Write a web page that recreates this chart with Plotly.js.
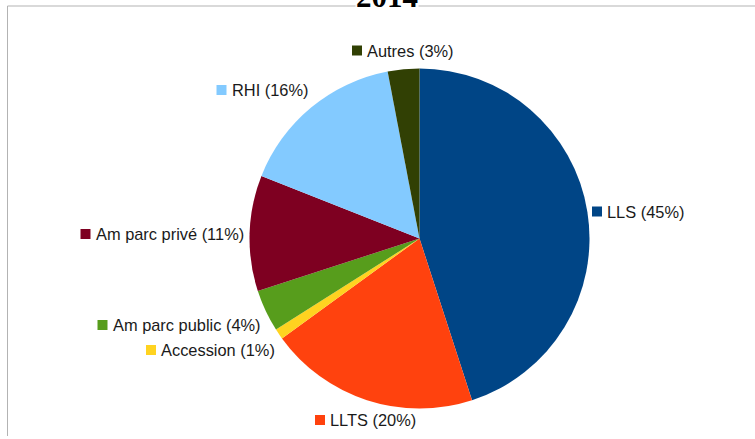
<!DOCTYPE html>
<html>
<head>
<meta charset="utf-8">
<script src="https://cdn.plot.ly/plotly-3.0.1.min.js"></script>
<style>html,body{margin:0;padding:0;background:#fff;}#chart{width:755px;height:439px;}</style>
</head>
<body>
<div id="chart"></div>
<script>
// ---- data ----
const chartTitle = "2014";
const categories = ["LLS", "LLTS", "Accession", "Am parc public", "Am parc privé", "RHI", "Autres"];
const shares = [45, 20, 1, 4, 11, 16, 3];
const sliceColors = ["#004586", "#ff420e", "#ffd320", "#579d1c", "#7e0021", "#83caff", "#314004"];

// ---- label placement (pixels: left edge of key square, vertical centre) ----
const labelPos = [
  [592, 211.5], [315, 420], [146, 350], [97.5, 325], [80.5, 234], [216.5, 90], [352, 50.5]
];

const W = 755, H = 439;
const px = x => x / W;
const py = y => 1 - y / H;

// pie geometry (pixels)
const cx = 419.5, cy = 238.5, r = 170;

const shapes = [
  // chart frame (top and left edges)
  {type: "line", xref: "paper", yref: "paper", x0: px(7.5), x1: px(760), y0: py(6), y1: py(6),
   line: {color: "#b3b3b3", width: 1}, layer: "below"},
  {type: "line", xref: "paper", yref: "paper", x0: px(7.5), x1: px(7.5), y0: py(6), y1: py(436),
   line: {color: "#b3b3b3", width: 1}, layer: "below"}
];
const annotations = [];
const sq = 10;
categories.forEach((c, i) => {
  const [lx, ly] = labelPos[i];
  shapes.push({type: "rect", xref: "paper", yref: "paper",
    x0: px(lx), x1: px(lx + sq), y0: py(ly - sq / 2), y1: py(ly + sq / 2),
    fillcolor: sliceColors[i], line: {width: 0}, layer: "above"});
  annotations.push({xref: "paper", yref: "paper", x: px(lx + 13), y: py(ly),
    xanchor: "left", yanchor: "middle", showarrow: false,
    text: c + " (" + shares[i] + "%)",
    font: {family: "Liberation Sans, Arial, sans-serif", size: 16.4, color: "#1a1a1a"}});
});
// title
annotations.push({xref: "paper", yref: "paper", x: px(387), y: py(-4), xanchor: "center", yanchor: "middle",
  showarrow: false, text: "<b>" + chartTitle + "</b>", bgcolor: "#ffffff", borderpad: 0,
  font: {family: "Liberation Serif, Times New Roman, serif", size: 31, color: "#000000"}});

const trace = {
  type: "pie",
  labels: categories,
  values: shares,
  sort: false,
  direction: "clockwise",
  rotation: 0,
  marker: {colors: sliceColors, line: {width: 0}},
  textinfo: "none",
  hoverinfo: "label+percent",
  showlegend: false,
  domain: {x: [px(cx - r), px(cx + r)], y: [py(cy + r), py(cy - r)]}
};

Plotly.newPlot("chart", [trace], {
  width: W, height: H,
  margin: {l: 0, r: 0, t: 0, b: 0},
  paper_bgcolor: "#ffffff",
  plot_bgcolor: "#ffffff",
  showlegend: false,
  shapes: shapes,
  annotations: annotations
}, {displayModeBar: false, staticPlot: true});
</script>
</body>
</html>
